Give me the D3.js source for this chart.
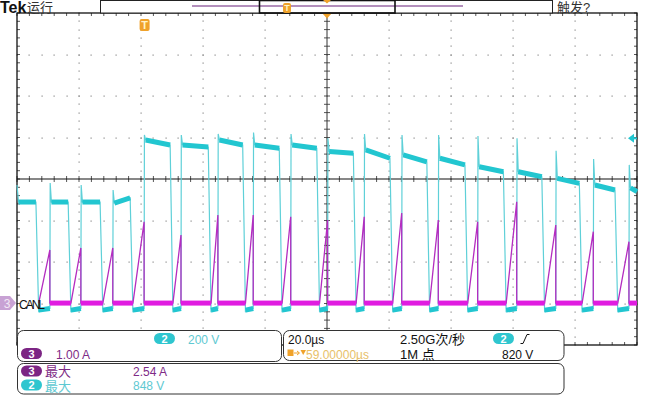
<!DOCTYPE html>
<html>
<head>
<meta charset="utf-8">
<script src="https://cdn.jsdelivr.net/npm/d3@7"></script>
<style>
  body { margin: 0; background: #fff; }
  svg { display: block; }
  text { font-family: "Liberation Sans", Arial, "Noto Sans CJK SC", sans-serif; }
</style>
</head>
<body>
<div id="scope"></div>
<script>
// CH2 (voltage) pulse timing in µs, left edge = 0, right edge = 200
var riseT = [0, 10.6, 20.6, 30.9, 41.0, 52.9, 64.8, 76.2, 88.3, 100.2, 112.0, 124.1, 135.9, 148.6, 161.2, 173.8, 185.9, 197.4];
var fallT = [6.1, 16.5, 26.8, 36.5, 49.4, 61.7, 72.8, 84.6, 96.7, 108.5, 120.3, 132.2, 144.5, 156.9, 169.3, 181.4, 192.9];

// CH2 high level (V) at start / end of each pulse and turn-off spike (V)
var levelStart = [513, 513, 513, 508, 812, 788, 812, 788, 788, 756, 764, 740, 724, 683, 659, 627, 595, 581];
var levelEnd = [513, 513, 513, 533, 788, 778, 788, 772, 772, 748, 724, 707, 692, 659, 635, 603, 571, 563];
var spikeV = [595, 605, 595, 571, 836, 836, 841, 848, 841, 820, 841, 836, 836, 831, 820, 760, 720, 692];

// CH3 current ramp peak (A) at the end of each on-time
var peakI = [1.28, 1.33, 1.33, 1.96, 1.64, 2.12, 2.12, 2.08, 2.0, 2.08, 2.17, 2.0, 1.96, 2.44, 1.88, 1.72, 1.48];

// readout texts
var ch2Scale = "200 V";
var ch3Scale = "1.00 A";
var timeScale = "20.0µs";
var sampleRate = "2.50G次/秒";
var recordLen = "1M 点";
var trigLevel = "820 V";
var trigDelay = "59.00000µs";
var ch3Max = "2.54 A";
var ch2Max = "848 V";

var svgWidth = 660;
var svgHeight = 396;

var grat = { left: 17, right: 637, top: 13, bottom: 345 };

var svg = d3.select("#scope")
  .append("svg")
  .attr("width", svgWidth)
  .attr("height", svgHeight);

// scales
var x = d3.scaleLinear().domain([0, 200]).range([grat.left, grat.right]);
var yDiv = d3.scaleLinear().domain([-4, 4]).range([grat.bottom, grat.top]);
var ch2Pos = -3.12;
var ch3Pos = -2.99;
var yV = d3.scaleLinear().domain([0, 200]).range([yDiv(ch2Pos), yDiv(ch2Pos + 1)]);
var yA = d3.scaleLinear().domain([0, 1]).range([yDiv(ch3Pos), yDiv(ch3Pos + 1)]);

// ---- graticule ----
var grid = svg.append("g");
var minorT = d3.range(0, 200.01, 4);
var minorD = d3.range(-4, 4.01, 0.2);
var dots = [];
d3.range(20, 200, 20).forEach(function(t) {
  if (t === 100) return;
  minorD.forEach(function(d) { dots.push([x(t), yDiv(d)]); });
});
d3.range(-3, 4, 1).forEach(function(d) {
  if (d === 0) return;
  minorT.forEach(function(t) { dots.push([x(t), yDiv(d)]); });
});
grid.selectAll("rect.dot")
  .data(dots)
  .enter()
  .append("rect")
  .attr("class", "dot")
  .attr("x", d => Math.round(d[0]) - 0.5)
  .attr("y", d => Math.round(d[1]) - 0.5)
  .attr("width", 1.2)
  .attr("height", 1.2)
  .attr("fill", "#8a8a8a");

// border ticks
var ticks = [];
minorT.forEach(function(t) {
  ticks.push([x(t), grat.top, x(t), grat.top + 3]);
  ticks.push([x(t), grat.bottom, x(t), grat.bottom - 3]);
  ticks.push([x(t), yDiv(0) - 3, x(t), yDiv(0) + 3]);
});
minorD.forEach(function(d) {
  ticks.push([grat.left, yDiv(d), grat.left + 3, yDiv(d)]);
  ticks.push([grat.right, yDiv(d), grat.right - 3, yDiv(d)]);
  ticks.push([x(100) - 3, yDiv(d), x(100) + 3, yDiv(d)]);
});
grid.selectAll("line.tick")
  .data(ticks)
  .enter()
  .append("line")
  .attr("class", "tick")
  .attr("x1", d => d[0]).attr("y1", d => d[1])
  .attr("x2", d => d[2]).attr("y2", d => d[3])
  .attr("stroke", "#555")
  .attr("stroke-width", 1);

grid.append("line")
  .attr("x1", grat.left).attr("x2", grat.right)
  .attr("y1", yDiv(0)).attr("y2", yDiv(0))
  .attr("stroke", "#111").attr("stroke-width", 1.2);
grid.append("line")
  .attr("x1", x(100)).attr("x2", x(100))
  .attr("y1", grat.top).attr("y2", grat.bottom)
  .attr("stroke", "#333").attr("stroke-width", 1);
grid.append("rect")
  .attr("x", grat.left).attr("y", grat.top)
  .attr("width", grat.right - grat.left)
  .attr("height", grat.bottom - grat.top)
  .attr("fill", "none")
  .attr("stroke", "#111")
  .attr("stroke-width", 1.3);

// ---- CH2 trace ----
var cyanPts = [];
var cyanBands = [];
var cyanLows = [];
riseT.forEach(function(r, i) {
  var f = i < fallT.length ? fallT[i] : 200;
  if (i === 0) {
    cyanPts.push([r, spikeV[i]]);
  } else {
    cyanPts.push([r, 0]);
    cyanPts.push([r + 0.1, spikeV[i]]);
  }
  cyanPts.push([r + 0.5, levelStart[i]]);
  cyanPts.push([f, levelEnd[i]]);
  cyanBands.push([[r + 0.5, levelStart[i]], [f, levelEnd[i]]]);
  if (i < fallT.length) {
    cyanPts.push([f + 0.9, -18]);
    cyanPts.push([f + 1.5, 0]);
    cyanLows.push([[f + 0.9, -8], [riseT[i + 1], 0]]);
  }
});

var lineV = d3.line().x(d => x(d[0])).y(d => yV(d[1]));
var lineA = d3.line().x(d => x(d[0])).y(d => yA(d[1]));

svg.append("path")
  .attr("d", lineV(cyanPts))
  .attr("fill", "none")
  .attr("stroke", "#5fd0d8")
  .attr("stroke-width", 1.2);

svg.selectAll("path.cband")
  .data(cyanBands.concat(cyanLows))
  .enter()
  .append("path")
  .attr("class", "cband")
  .attr("d", d => lineV(d))
  .attr("fill", "none")
  .attr("stroke", "#22c6d0")
  .attr("stroke-width", 5);

// ---- CH3 trace ----
var magPts = [];
var magBands = [];
fallT.forEach(function(f, i) {
  var s = f + 0.9;
  var r = riseT[i + 1];
  var next = i + 1 < fallT.length ? fallT[i + 1] + 0.9 : 200;
  magPts.push([s, 0]);
  magPts.push([r, peakI[i]]);
  magPts.push([r, 0]);
  magPts.push([next, 0]);
  magBands.push([[r, 0], [next, 0]]);
});

svg.append("path")
  .attr("d", lineA(magPts))
  .attr("fill", "none")
  .attr("stroke", "#b42cc0")
  .attr("stroke-width", 1.3);

svg.selectAll("path.mband")
  .data(magBands)
  .enter()
  .append("path")
  .attr("class", "mband")
  .attr("d", d => lineA(d))
  .attr("fill", "none")
  .attr("stroke", "#e01ce0")
  .attr("stroke-width", 5);

// ---- markers on graticule ----
// CH3 ground marker
svg.append("path")
  .attr("d", `M0,${yA(0) - 7} L10,${yA(0) - 7} L16,${yA(0)} L10,${yA(0) + 7} L0,${yA(0) + 7} Z`)
  .attr("fill", "#c8a2d4");
svg.append("text")
  .attr("x", 7).attr("y", yA(0) + 4.5)
  .attr("text-anchor", "middle")
  .attr("font-size", 12)
  .attr("fill", "#f3e8f5")
  .text("3");
svg.append("text")
  .attr("x", 19).attr("y", yA(0) + 6)
  .attr("font-size", 12)
  .attr("fill", "#111")
  .attr("textLength", 26)
  .text("CANL");

// CH2 trigger level arrow (right edge)
var trigY = yV(820);
svg.append("path")
  .attr("d", `M628,${trigY} L634,${trigY - 4.5} L634,${trigY + 4.5} Z`)
  .attr("fill", "#22c6d0");
svg.append("line")
  .attr("x1", 633).attr("x2", 637)
  .attr("y1", trigY).attr("y2", trigY)
  .attr("stroke", "#22c6d0").attr("stroke-width", 2);

// trigger T marker
var trigT = 100 - 59;
function tBadge(cx, y0, w, h) {
  svg.append("rect")
    .attr("x", cx - w / 2).attr("y", y0)
    .attr("width", w).attr("height", h)
    .attr("rx", 2)
    .attr("fill", "#f0a22a");
  svg.append("text")
    .attr("x", cx).attr("y", y0 + h - 2)
    .attr("text-anchor", "middle")
    .attr("font-size", h - 1)
    .attr("font-weight", "bold")
    .attr("fill", "#fff3c8")
    .text("T");
}
tBadge(x(trigT) + 0.5, 19, 10, 12);

// expansion point marker
svg.append("path")
  .attr("d", `M${x(100) - 5},13 L${x(100) + 5},13 L${x(100)},18.5 Z`)
  .attr("fill", "#f0a22a");

// ---- top bar ----
svg.append("text")
  .attr("x", 0).attr("y", 12.5)
  .attr("font-family", "Liberation Serif")
  .attr("font-weight", "bold")
  .attr("font-size", 16)
  .attr("fill", "#111")
  .text("Tek");
svg.append("text")
  .attr("x", 27).attr("y", 12)
  .attr("font-family", "Noto Sans CJK SC")
  .attr("font-size", 13)
  .attr("fill", "#333")
  .text("运行");
svg.append("text")
  .attr("x", 557).attr("y", 12)
  .attr("font-family", "Noto Sans CJK SC")
  .attr("font-size", 13)
  .attr("fill", "#333")
  .text("触发?");

svg.append("rect")
  .attr("x", 100.5).attr("y", 0.5)
  .attr("width", 452).attr("height", 12.5)
  .attr("fill", "#fff")
  .attr("stroke", "#222");
svg.append("line")
  .attr("x1", 192).attr("x2", 463)
  .attr("y1", 6).attr("y2", 6)
  .attr("stroke", "#9a6aa6").attr("stroke-width", 1.6);
svg.append("rect")
  .attr("x", 259.5).attr("y", 0.5)
  .attr("width", 135.5).attr("height", 12.5)
  .attr("fill", "none")
  .attr("stroke", "#111").attr("stroke-width", 1.6);
tBadge(287, 3, 8, 10);
svg.append("path")
  .attr("d", `M${x(100) - 4},0 L${x(100) + 4},0 L${x(100)},3.5 Z`)
  .attr("fill", "#f0a22a");

// ---- readout panels ----
function panel(x0, y0, w, h) {
  svg.append("rect")
    .attr("x", x0).attr("y", y0)
    .attr("width", w).attr("height", h)
    .attr("rx", 6)
    .attr("fill", "#fff")
    .attr("stroke", "#333")
    .attr("stroke-width", 1);
}
function badge(x0, y0, num, color) {
  svg.append("rect")
    .attr("x", x0).attr("y", y0)
    .attr("width", 21).attr("height", 11)
    .attr("rx", 5.5)
    .attr("fill", color);
  svg.append("text")
    .attr("x", x0 + 10.5).attr("y", y0 + 9.5)
    .attr("text-anchor", "middle")
    .attr("font-size", 11)
    .attr("font-weight", "bold")
    .attr("fill", "#fff")
    .text(num);
}
function label(x0, y0, str, color, size) {
  svg.append("text")
    .attr("x", x0).attr("y", y0)
    .attr("font-size", size || 12)
    .attr("fill", color)
    .text(str);
}

var cyanTxt = "#5ec9d2";
var cyanBadge = "#2fc6cf";
var purpTxt = "#7e2a86";
var purpBadge = "#7c2584";

panel(17.5, 330.5, 264, 31);
badge(154, 333, "2", cyanBadge);
label(188, 343.5, ch2Scale, cyanTxt);
badge(21, 348, "3", purpBadge);
label(56, 358.5, ch3Scale, purpTxt);

panel(283.5, 330.5, 280.5, 30);
label(288, 343.5, timeScale, "#111");
label(400, 343.5, sampleRate, "#111", 13);
badge(493, 333, "2", cyanBadge);
svg.append("path")
  .attr("d", "M520.5,343.5 L523,343.5 L527,334.5 L529.5,334.5")
  .attr("fill", "none")
  .attr("stroke", "#111").attr("stroke-width", 1);
svg.append("rect")
  .attr("x", 287.5).attr("y", 349.5)
  .attr("width", 6).attr("height", 6.5)
  .attr("fill", "#f0a22a");
svg.append("path")
  .attr("d", "M294,353 L299,353 M297,351 L299.5,353 L297,355")
  .attr("fill", "none")
  .attr("stroke", "#f0a22a").attr("stroke-width", 1);
svg.append("path")
  .attr("d", "M300.5,350 L306,350 L303.2,355 Z")
  .attr("fill", "#f0a22a");
label(306, 358.5, trigDelay, "#e8bf6a");
label(400, 358.5, recordLen, "#111", 13);
label(502, 358.5, trigLevel, "#111");

panel(17.5, 363.5, 546.5, 30.5);
badge(21, 365.5, "3", purpBadge);
svg.append("text")
  .attr("x", 45).attr("y", 376)
  .attr("font-family", "Noto Sans CJK SC")
  .attr("font-size", 13)
  .attr("fill", purpTxt)
  .text("最大");
label(133, 375.5, ch3Max, purpTxt);
badge(21, 379.5, "2", cyanBadge);
svg.append("text")
  .attr("x", 45).attr("y", 390.5)
  .attr("font-family", "Noto Sans CJK SC")
  .attr("font-size", 13)
  .attr("fill", cyanTxt)
  .text("最大");
label(133, 389.5, ch2Max, cyanTxt);
</script>
</body>
</html>
